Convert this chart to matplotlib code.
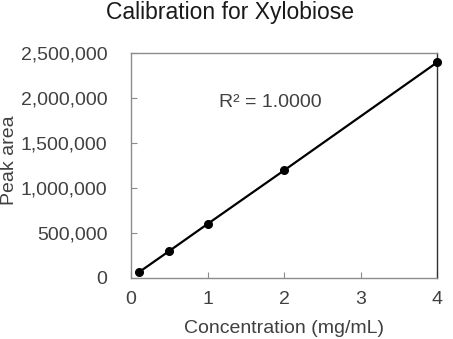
import numpy as np
import matplotlib
matplotlib.use("Agg")
from matplotlib import pyplot as plt
from matplotlib.ticker import FuncFormatter

plt.rcParams["font.family"] = ["Liberation Sans", "DejaVu Sans"]

# calibration data
conc = [0.1, 0.5, 1.0, 2.0, 4.0]
peak_area = [62000, 300000, 600000, 1195000, 2395000]
x_ticks = [0, 1, 2, 3, 4]
y_ticks = [0, 500000, 1000000, 1500000, 2000000, 2500000]
r2_text = "R² = 1.0000"

fig = plt.figure(figsize=(4.53, 3.39), dpi=100)
ax = fig.add_axes([131 / 453, 61 / 339, 306 / 453, 225 / 339])

ax.plot(conc, peak_area, color="black", lw=1.6, marker="o", ms=5.5, zorder=3, clip_on=False)

ax.set_xlim(0, 4)
ax.set_ylim(0, 2500000)
ax.set_xticks(x_ticks)
ax.set_yticks(y_ticks)
ax.yaxis.set_major_formatter(FuncFormatter(lambda v, p: f"{int(v):,}"))

for side in ["left", "top", "bottom"]:
    ax.spines[side].set_color("#8c8c8c")
ax.spines["right"].set_color("#303030")
for s in ax.spines.values():
    s.set_linewidth(1.0)

ax.tick_params(axis="y", direction="in", length=4, color="#8c8c8c", pad=17,
               labelsize=14, labelcolor="#404040")
ax.tick_params(axis="x", direction="in", length=4, color="#8c8c8c", pad=9,
               labelsize=14, labelcolor="#404040")

ax.set_xlabel("Concentration (mg/mL)", fontsize=14, color="#404040", labelpad=9)
# the y label sits right against the left edge, as in the original
fig.text(1 / 453, 1 - 160 / 339, "Peak area", rotation=90, fontsize=14,
         color="#404040", ha="left", va="center")
fig.text(0.507, 1 - 12 / 339, "Calibration for Xylobiose", fontsize=16.5,
         color="#1a1a1a", ha="center", va="center")
ax.text(0.454, 0.778, r2_text, transform=ax.transAxes, fontsize=14,
        color="#404040", ha="center", va="center")

fig.savefig("out.png", dpi=100)
